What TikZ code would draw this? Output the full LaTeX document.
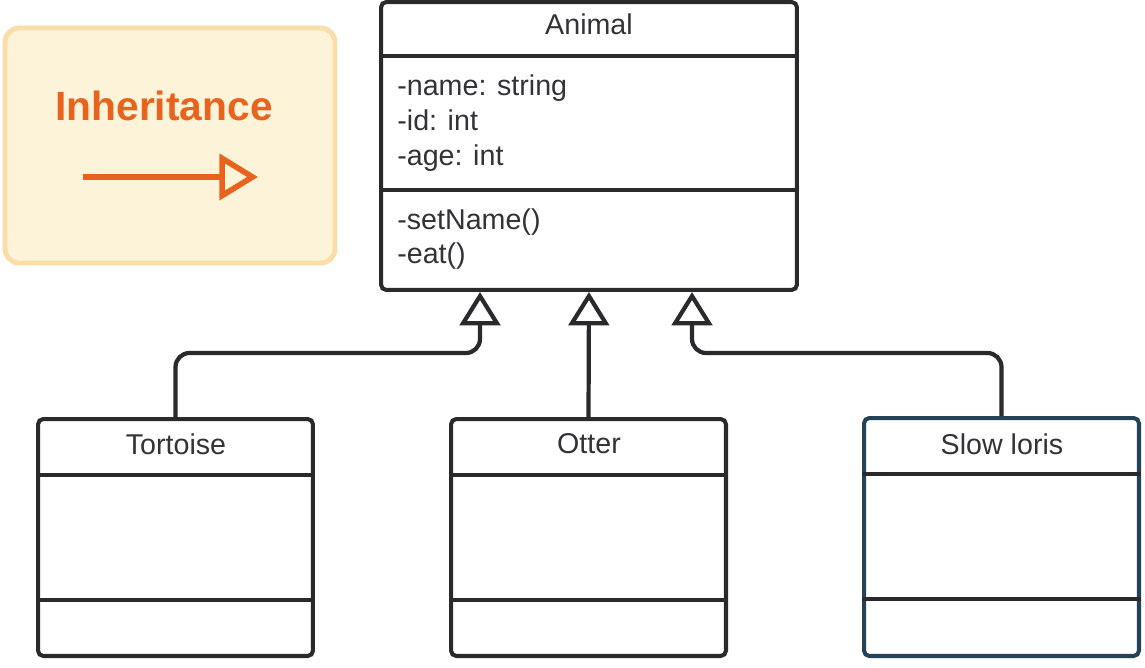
\documentclass[tikz,border=0pt]{standalone}
\usepackage{fontspec}
\setmainfont{Liberation Sans}
\usetikzlibrary{arrows.meta}
\definecolor{ink}{RGB}{42,42,44}
\definecolor{txt}{RGB}{51,51,55}
\definecolor{lorisedge}{RGB}{36,66,88}
\definecolor{notefill}{RGB}{253,243,217}
\definecolor{noteedge}{RGB}{249,222,168}
\definecolor{noteorange}{RGB}{232,100,30}
\tikzset{
  classbox/.style={draw=ink, line width=2.3pt, rounded corners=3pt, fill=white, inner sep=0pt},
  label/.style={text=txt, font=\fontsize{16.3}{19.7}\selectfont, inner sep=0pt},
  divider/.style={draw=ink, line width=2.3pt},
  inherit/.style={draw=ink, line width=2.4pt, rounded corners=8pt,
    -{Triangle[open, length=19pt, width=23pt]}},
}
\begin{document}
\begin{tikzpicture}[x=0.02cm, y=-0.02cm]
  \useasboundingbox (0,0) rectangle (1145,668);

  % legend
  \node[draw=noteedge, line width=2.8pt, fill=notefill, rounded corners=8pt,
    minimum width=6.6cm, minimum height=4.7cm] (legend) at (170,145.5) {};
  \node[text=noteorange, font=\fontsize{23.2}{27}\selectfont\bfseries] (legendtitle) at (164,106) {Inheritance};
  \coordinate (legendfrom) at (83,177);
  \coordinate (legendto) at (258,177);
  \draw[noteorange, line width=3.2pt, -{Triangle[open, length=22pt, width=26pt]}] (legendfrom) -- (legendto);

  % parent class
  \node[classbox, minimum width=8.32cm, minimum height=5.76cm] (animal) at (589,146) {};
  \node[label] (animalname) at (589,24) {Animal};
  \node[label, align=left, anchor=west] (animalattr) at (397,123) {-name: string\\-id: int\\-age: int};
  \node[label, align=left, anchor=west] (animalops) at (397,239) {-setName()\\-eat()};
  \draw[divider] ([yshift=-1.12cm]animal.north west) -- ([yshift=-1.12cm]animal.north east);
  \draw[divider] ([yshift=-3.8cm]animal.north west) -- ([yshift=-3.8cm]animal.north east);

  % child classes
  \node[classbox, minimum width=5.5cm, minimum height=4.74cm] (tortoise) at (175.5,537.5) {};
  \node[classbox, minimum width=5.5cm, minimum height=4.74cm] (otter) at (588.5,537.5) {};
  \node[classbox, draw=lorisedge, minimum width=5.5cm, minimum height=4.76cm] (loris) at (1001.5,537) {};
  \node[label] (tortoisename) at (176,444) {Tortoise};
  \node[label] (ottername) at (589,444) {Otter};
  \node[label] (lorisname) at (1002,444) {Slow loris};
  \foreach \c in {tortoise,otter,loris} {
    \draw[divider] ([yshift=-1.16cm]\c.north west) -- ([yshift=-1.16cm]\c.north east);
    \draw[divider] ([yshift=-3.66cm]\c.north west) -- ([yshift=-3.66cm]\c.north east);
  }

  % inheritance
  \coordinate (fromtortoise) at (480,292);
  \coordinate (fromotter) at (589,292);
  \coordinate (fromloris) at (692,292);
  \draw[inherit] (tortoise.north) -- ++(0,-64) -| (fromtortoise);
  \draw[inherit] (otter.north) -- (fromotter);
  \draw[inherit] (loris.north) -- ++(0,-63) -| (fromloris);
\end{tikzpicture}
\end{document}
